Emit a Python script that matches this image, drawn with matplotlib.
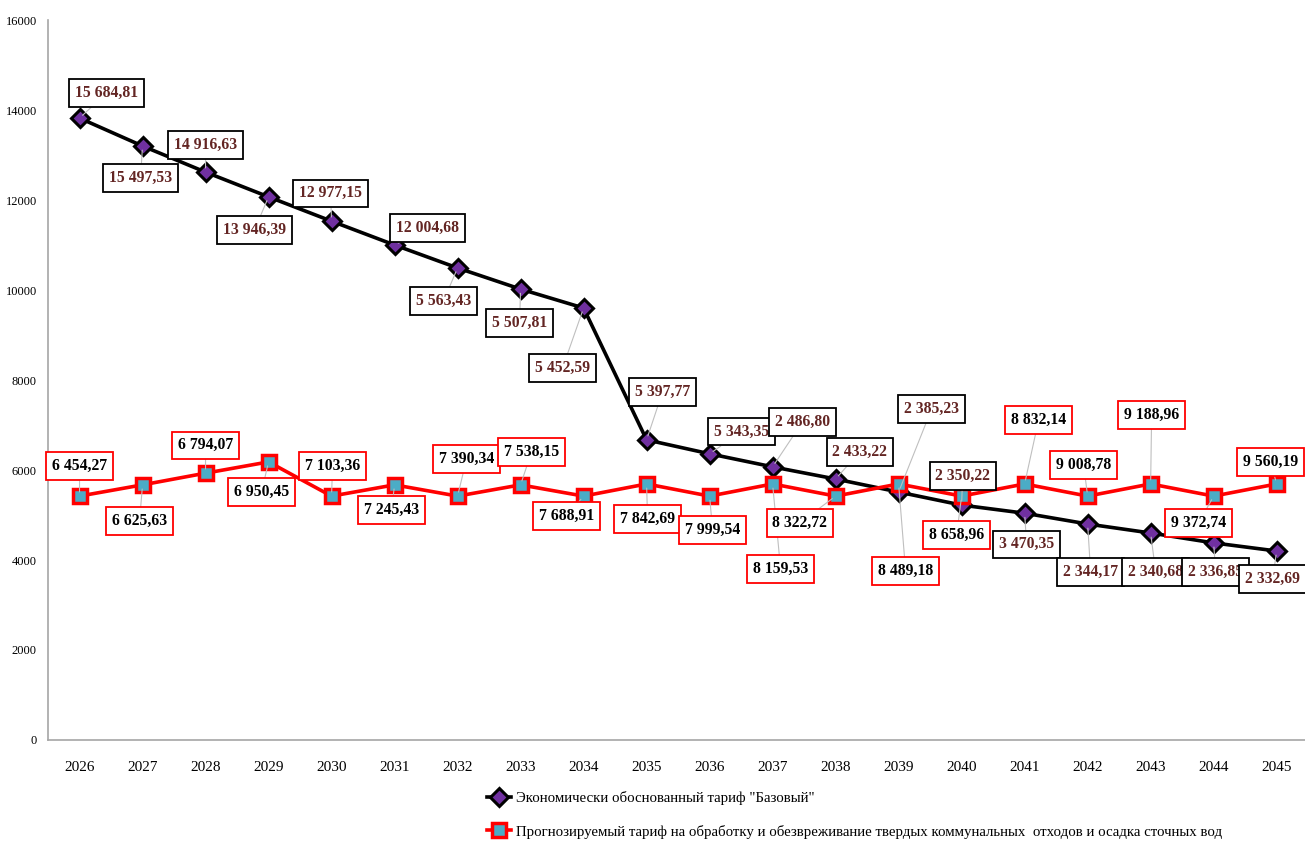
import matplotlib.pyplot as plt
import numpy as np

plt.rcParams['font.family'] = ['Liberation Serif', 'DejaVu Serif']

years = [str(y) for y in range(2026, 2046)]

# plotted values
base_vals = [13820, 13200, 12620, 12070, 11530, 11000, 10490, 10020, 9600, 6670,
             6360, 6070, 5800, 5510, 5220, 5040, 4800, 4600, 4380, 4200]
forecast_vals = [5420, 5670, 5930, 6180, 5420, 5670, 5420, 5670, 5420, 5690,
                 5420, 5690, 5420, 5690, 5420, 5690, 5420, 5690, 5420, 5690]

# data label texts as shown on the chart
base_labels = ['15 684,81', '15 497,53', '14 916,63', '13 946,39', '12 977,15', '12 004,68',
               '5 563,43', '5 507,81', '5 452,59', '5 397,77', '5 343,35', '2 486,80',
               '2 433,22', '2 385,23', '2 350,22', '3 470,35', '2 344,17', '2 340,68',
               '2 336,85', '2 332,69']
forecast_labels = ['6 454,27', '6 625,63', '6 794,07', '6 950,45', '7 103,36', '7 245,43',
                   '7 390,34', '7 538,15', '7 688,91', '7 842,69', '7 999,54', '8 159,53',
                   '8 322,72', '8 489,18', '8 658,96', '8 832,14', '9 008,78', '9 188,96',
                   '9 372,74', '9 560,19']

name_base = 'Экономически обоснованный тариф "Базовый"'
name_forecast = ('Прогнозируемый тариф на обработку и обезвреживание твердых коммунальных  '
                 'отходов и осадка сточных вод')

# label offsets in pixels (dx, dy) relative to the marker
base_off = [(27, 25), (-2, -32), (0, 27), (-14, -33), (-1, 28), (33, 17), (-14, -33),
            (-1, -34), (-21, -60), (16, 48), (32, 22), (30, 45), (24, 27), (33, 83),
            (1, 29), (2, -31), (3, -48), (5, -39), (2, -29), (-4, -28)]
fc_off = [(0, 30), (-3, -36), (0, 28), (-7, -30), (1, 30), (-3, -25), (9, 37), (11, 33),
          (-17, -20), (1, -35), (3, -34), (8, -85), (-36, -27), (7, -87), (-5, -39),
          (14, 64), (-4, 31), (1, 69), (-15, -27), (-6, 22)]

fig = plt.figure(figsize=(13.05, 8.41), dpi=100)
ax = fig.add_axes([0.0368, 0.1201, 0.9632, 0.8561])

x = np.arange(len(years))
ax.plot(x, base_vals, color='black', lw=2.6, marker='D', ms=9,
        mfc='#7030a0', mec='black', mew=2.2, label=name_base, zorder=3)
ax.plot(x, forecast_vals, color='#ff0000', lw=2.6, marker='s', ms=10,
        mfc='#4bacc6', mec='#ff0000', mew=2.5, label=name_forecast, zorder=4)

def put_labels(vals, labels, offs, tcolor, ecolor):
    for i in range(len(vals)):
        ax.annotate(labels[i], xy=(x[i], vals[i]), xytext=offs[i],
                    textcoords='offset pixels', ha='center', va='center',
                    fontsize=11.3, fontweight='bold', color=tcolor, zorder=6,
                    bbox=dict(boxstyle='square,pad=0.36', fc='white', ec=ecolor, lw=1.3),
                    arrowprops=dict(arrowstyle='-', color='#bfbfbf', lw=0.8,
                                    shrinkA=0, shrinkB=3))

put_labels(base_vals, base_labels, base_off, '#632523', 'black')
put_labels(forecast_vals, forecast_labels, fc_off, 'black', '#ff0000')

ax.set_xlim(-0.5, 19.45)
ax.set_ylim(0, 16000)
ax.set_yticks(range(0, 16001, 2000))
ax.set_xticks(x)
ax.set_xticklabels(years, fontsize=11)
ax.tick_params(axis='y', length=0, labelsize=9, pad=8)
ax.tick_params(axis='x', length=0, pad=15)
for s in ['top', 'right']:
    ax.spines[s].set_visible(False)
for s in ['left', 'bottom']:
    ax.spines[s].set_color('#a6a6a6')
    ax.spines[s].set_linewidth(1.2)

fig.legend(loc='upper left', bbox_to_anchor=(0.3735, 0.059), frameon=False,
           fontsize=10.7, handlelength=1.6, handletextpad=0.3, labelspacing=1.3,
           borderaxespad=0, borderpad=0)

fig.savefig('out.png', dpi=100)
